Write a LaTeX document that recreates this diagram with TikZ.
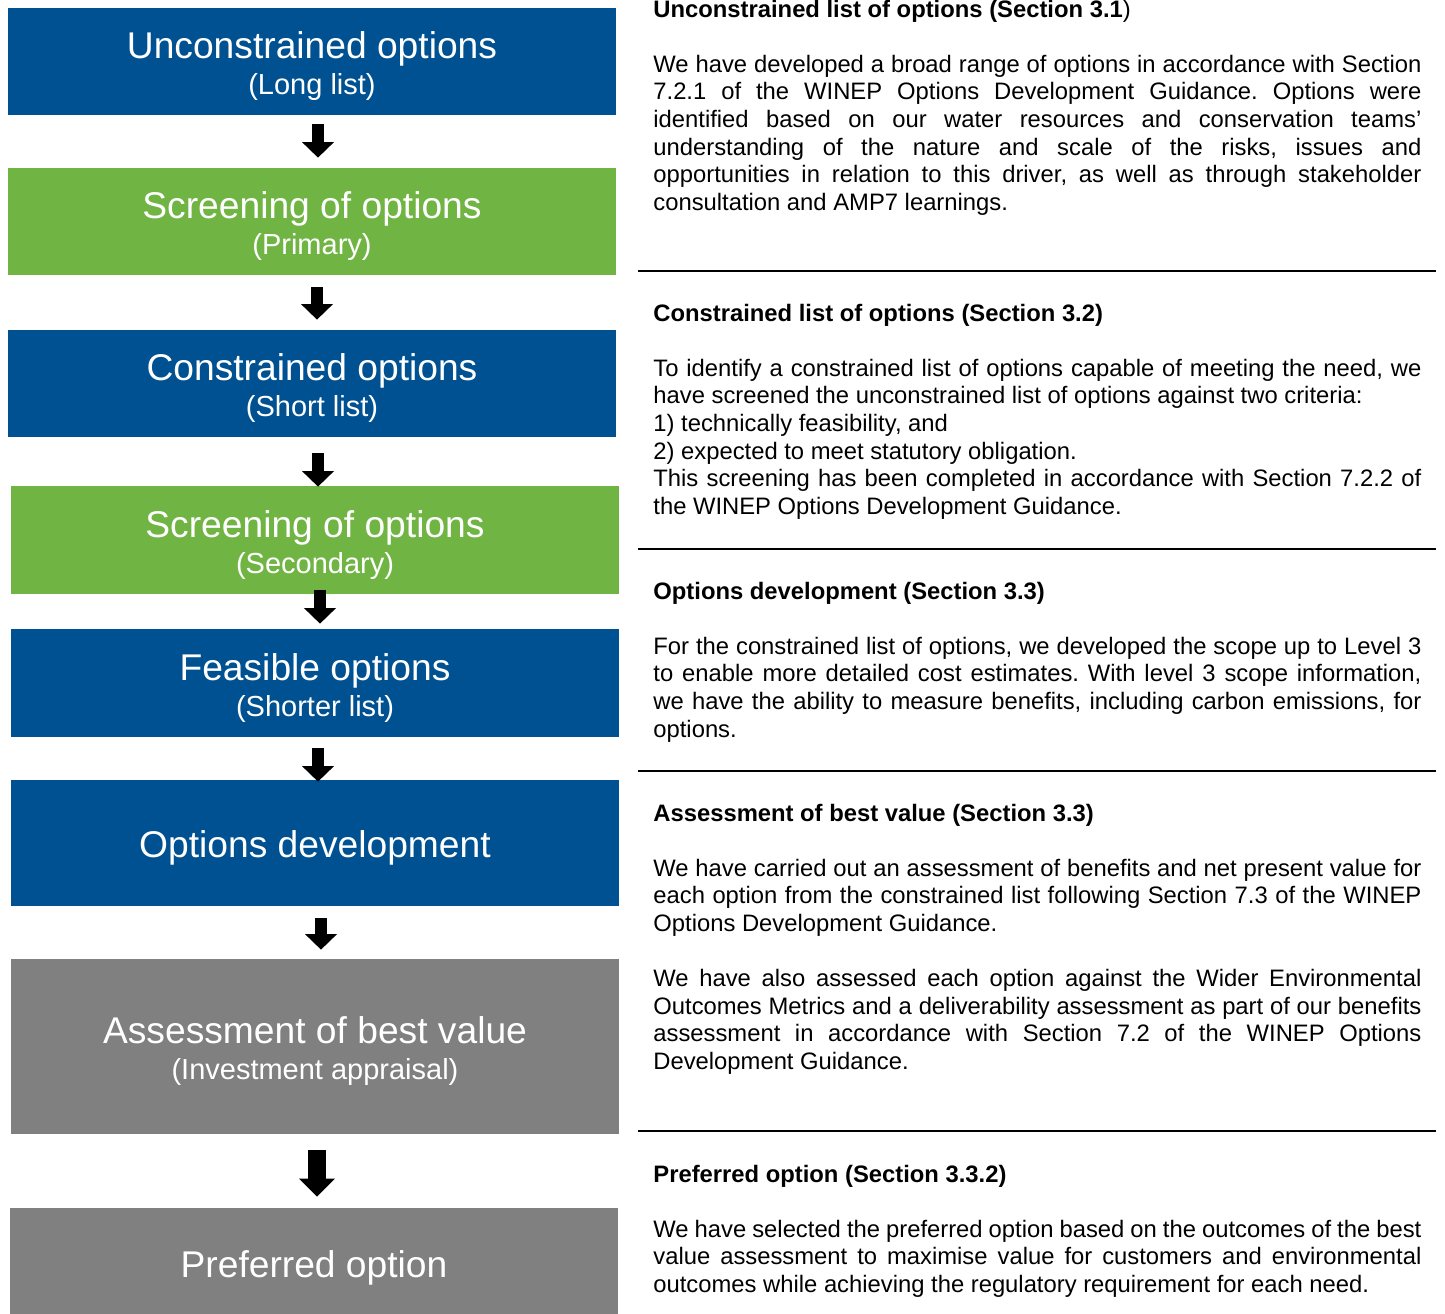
\documentclass[tikz,border=0pt]{standalone}
\usepackage{fontspec}
\setmainfont{Liberation Sans}
\usepackage{tikz}
\usetikzlibrary{arrows.meta,positioning}

\definecolor{optblue}{RGB}{0,81,146}
\definecolor{optgreen}{RGB}{112,181,68}
\definecolor{optgray}{RGB}{128,128,128}

\newcommand{\ttl}{\fontsize{18.6}{18}\selectfont\rule{0pt}{18pt}}
\tolerance=10000
\hyphenpenalty=10000
\frenchspacing

\begin{document}
\begin{tikzpicture}[
			x=0.5pt, y=-0.5pt,
			box/.style={rectangle, fill=#1, text=white, minimum width=304pt, inner sep=0pt, align=center, font=\fontsize{14.5}{18}\selectfont},
			arr/.style={line width=6pt, -{Triangle[length=7.75pt, width=16pt, line width=0pt]}},
			bigarr/.style={line width=9pt, -{Triangle[length=9pt, width=18pt, line width=0pt]}},
			desc/.style={anchor=base west, inner sep=0pt, text width=384pt, align=justify, font=\fontsize{11.9}{13.8}\selectfont},
			rule/.style={line width=1pt}
			]
			\useasboundingbox (0,0) rectangle (1445,1313);
			\node[box=optblue, minimum height=53.5pt] (unc) at (312,61.5) {{\ttl Unconstrained options}\\(Long list)};
			\node[box=optgreen, minimum height=53.5pt] (scr1) at (312,221.5) {{\ttl Screening of options}\\(Primary)};
			\node[box=optblue, minimum height=53.5pt] (con) at (312,383.5) {{\ttl Constrained options}\\(Short list)};
			\node[box=optgreen, minimum height=54pt] (scr2) at (315,540) {{\ttl Screening of options}\\(Secondary)};
			\node[box=optblue, minimum height=54pt] (fea) at (315,683) {{\ttl Feasible options}\\(Shorter list)};
			\node[box=optblue, minimum height=63pt] (dev) at (315,843) {\ttl Options development};
			\node[box=optgray, minimum height=87.5pt] (ass) at (315,1046.5) {{\ttl Assessment of best value}\\(Investment appraisal)};
			\node[box=optgray, minimum height=55pt] (pref) at (314,1263) {\ttl Preferred option};
			\draw[arr, shorten <=4.5pt, shorten >=5pt] ([xshift=3pt]unc.south) -- ([xshift=3pt]scr1.north);
			\draw[arr, shorten <=6pt, shorten >=5pt] ([xshift=2.5pt]scr1.south) -- ([xshift=2.5pt]con.north);
			\draw[arr, shorten <=8pt, shorten >=-0.5pt] ([xshift=3pt]con.south) -- ([xshift=1.5pt]scr2.north);
			\draw[arr, shorten <=-2pt, shorten >=2.5pt] ([xshift=2.5pt]scr2.south) -- ([xshift=2.5pt]fea.north);
			\draw[arr, shorten <=5.5pt, shorten >=-1pt] ([xshift=1.5pt]fea.south) -- ([xshift=1.5pt]dev.north);
			\draw[arr, shorten <=6pt, shorten >=4.5pt] ([xshift=3pt]dev.south) -- ([xshift=3pt]ass.north);
			\draw[bigarr, shorten <=8pt, shorten >=5.5pt] ([xshift=1pt]ass.south) -- ([xshift=1.5pt]pref.north);
			\node[desc] (sec31) at (653,17) {\textbf{Unconstrained list of options (Section 3.1})\\[\baselineskip]
				We have developed a broad range of options in accordance with Section\linebreak
				7.2.1 of the WINEP Options Development Guidance. Options were\linebreak
				identified based on our water resources and conservation teams’\linebreak
				understanding of the nature and scale of the risks, issues and\linebreak
				opportunities in relation to this driver, as well as through stakeholder\linebreak
				consultation and AMP7 learnings.};
			\node[desc] (sec32) at (653,321) {\textbf{Constrained list of options (Section 3.2)}\\[\baselineskip]
				To identify a constrained list of options capable of meeting the need, we\linebreak
				have screened the unconstrained list of options against two criteria:\\
				1) technically feasibility, and\\
				2) expected to meet statutory obligation.\\
				This screening has been completed in accordance with Section 7.2.2 of\linebreak
				the WINEP Options Development Guidance.};
			\node[desc] (sec33) at (653,599) {\textbf{Options development (Section 3.3)}\\[\baselineskip]
				For the constrained list of options, we developed the scope up to Level 3\linebreak
				to enable more detailed cost estimates. With level 3 scope information,\linebreak
				we have the ability to measure benefits, including carbon emissions, for\linebreak
				options.};
			\node[desc] (sec33b) at (653,821) {\textbf{Assessment of best value (Section 3.3)}\\[\baselineskip]
				We have carried out an assessment of benefits and net present value for\linebreak
				each option from the constrained list following Section 7.3 of the WINEP\linebreak
				Options Development Guidance.\\[\baselineskip]
				We have also assessed each option against the Wider Environmental\linebreak
				Outcomes Metrics and a deliverability assessment as part of our benefits\linebreak
				assessment in accordance with Section 7.2 of the WINEP Options\linebreak
				Development Guidance.};
			\node[desc] (sec332) at (653,1182) {\textbf{Preferred option (Section 3.3.2)}\\[\baselineskip]
				We have selected the preferred option based on the outcomes of the best\linebreak
				value assessment to maximise value for customers and environmental\linebreak
				outcomes while achieving the regulatory requirement for each need.};
			\draw[rule] (638,271) -- (1436,271);
			\draw[rule] (638,549) -- (1436,549);
			\draw[rule] (638,771) -- (1436,771);
			\draw[rule] (638,1131) -- (1436,1131);
		\end{tikzpicture}
\end{document}
